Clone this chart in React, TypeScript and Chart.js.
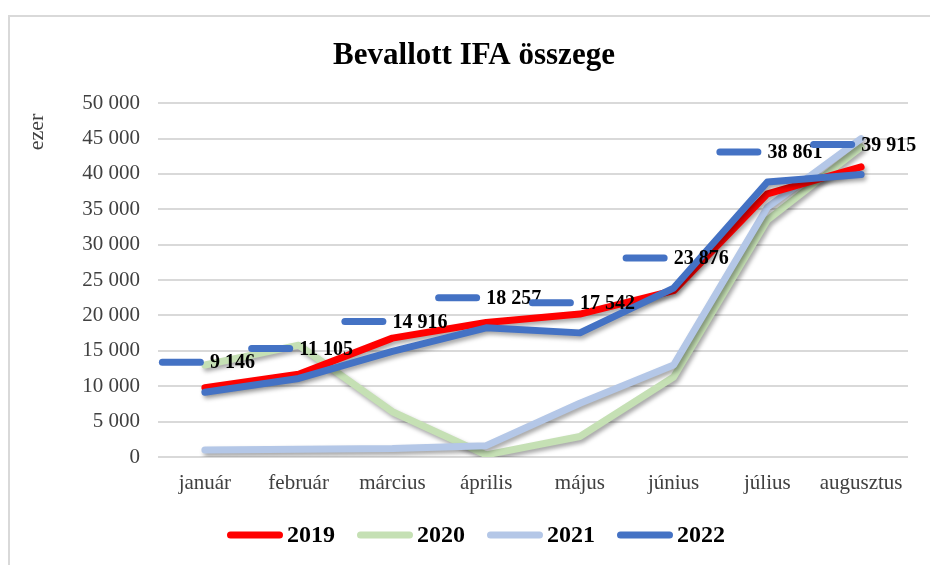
import React, { useEffect, useRef } from "react";
import { Chart, registerables } from "chart.js";

Chart.register(...registerables);

const categories = ["január", "február", "március", "április", "május", "június", "július", "augusztus"];
const years = ["2019", "2020", "2021", "2022"];
const values2019 = [9800, 11700, 16800, 19000, 20200, 23500, 37200, 41000];
const values2020 = [13000, 15800, 6400, 300, 2900, 11300, 33500, 43800];
const values2021 = [1000, 1100, 1200, 1600, 7600, 13000, 35300, 45000];
const values2022 = [9146, 11105, 14916, 18257, 17542, 23876, 38861, 39915];
const yTicks = [0, 5000, 10000, 15000, 20000, 25000, 30000, 35000, 40000, 45000, 50000];

const colors = ["#FF0000", "#C5E0B4", "#B4C7E7", "#4472C4"];
const drawOrder = [1, 3, 2, 0];

const fmt = (v: number) => {
  const s = Math.round(v).toString();
  return s.replace(/\B(?=(\d{3})+(?!\d))/g, " ");
};

const FONT = "'Liberation Serif', 'Times New Roman', serif";

const shadowPlugin = {
  id: "lineShadow",
  beforeDatasetDraw(chart: any) {
    const ctx = chart.ctx;
    ctx.save();
    ctx.shadowColor = "rgba(0,0,0,0.35)";
    ctx.shadowBlur = 4;
    ctx.shadowOffsetX = 2;
    ctx.shadowOffsetY = 3;
  },
  afterDatasetDraw(chart: any) {
    chart.ctx.restore();
  },
};

const labelPlugin = {
  id: "dataLabels2022",
  afterDatasetsDraw(chart: any) {
    const ctx = chart.ctx;
    const meta = chart.getDatasetMeta(3);
    const data = chart.data.datasets[3].data as number[];
    ctx.save();
    ctx.font = `bold 20px ${FONT}`;
    ctx.textBaseline = "middle";
    ctx.textAlign = "left";
    meta.data.forEach((pt: any, i: number) => {
      const text = fmt(data[i]);
      const tw = ctx.measureText(text).width;
      const dashLen = 38;
      const total = 45 + 6 + tw;
      const left = pt.x - total / 2 + 2;
      const cy = pt.y - 30;
      ctx.strokeStyle = colors[3];
      ctx.lineWidth = 7;
      ctx.lineCap = "round";
      ctx.beginPath();
      ctx.moveTo(left + 3.5, cy);
      ctx.lineTo(left + 3.5 + dashLen, cy);
      ctx.stroke();
      ctx.fillStyle = "#000000";
      ctx.fillText(text, left + 51, cy + 1);
    });
    ctx.restore();
  },
  afterDraw(chart: any) {
    const ctx = chart.ctx;
    ctx.save();
    // y axis unit label
    ctx.save();
    ctx.translate(37, 132);
    ctx.rotate(-Math.PI / 2);
    ctx.font = `22px ${FONT}`;
    ctx.fillStyle = "#404040";
    ctx.textAlign = "center";
    ctx.textBaseline = "middle";
    ctx.fillText("ezer", 0, 0);
    ctx.restore();

    // legend
    ctx.font = `bold 24px ${FONT}`;
    const keyLen = 49;
    const keyGap = 4;
    const itemGap = 22;
    const widths = years.map((y) => ctx.measureText(y).width);
    let total = 0;
    widths.forEach((w, i) => {
      total += 3.5 + keyLen + 3.5 + keyGap + w + (i < widths.length - 1 ? itemGap : 0);
    });
    let x = 476 - total / 2;
    const cy = 535;
    ctx.textBaseline = "middle";
    ctx.textAlign = "left";
    years.forEach((y, i) => {
      ctx.strokeStyle = colors[i];
      ctx.lineWidth = 7;
      ctx.lineCap = "round";
      ctx.beginPath();
      ctx.moveTo(x + 3.5, cy);
      ctx.lineTo(x + 3.5 + keyLen, cy);
      ctx.stroke();
      x += 3.5 + keyLen + 3.5 + keyGap;
      ctx.fillStyle = "#000000";
      ctx.fillText(y, x, cy + 1);
      x += widths[i] + itemGap;
    });
    ctx.restore();
  },
};

export default function App() {
  const ref = useRef<HTMLCanvasElement | null>(null);

  useEffect(() => {
    if (!ref.current) return;
    const series = [values2019, values2020, values2021, values2022];
    const chart = new Chart(ref.current, {
      type: "line",
      data: {
        labels: categories,
        datasets: series.map((vals, i) => ({
          label: years[i],
          data: vals,
          borderColor: colors[i],
          backgroundColor: colors[i],
          borderWidth: 7,
          borderCapStyle: "round",
          borderJoinStyle: "round",
          pointRadius: 0,
          pointHoverRadius: 0,
          tension: 0,
          fill: false,
          order: drawOrder[i],
        })),
      },
      options: {
        responsive: false,
        animation: false,
        events: [],
        layout: { padding: { top: 10, right: 22, bottom: 64, left: 40 } },
        scales: {
          x: {
            type: "category",
            offset: true,
            grid: { display: false, drawTicks: false },
            border: { display: false },
            ticks: {
              padding: 14,
              color: "#404040",
              font: { family: FONT, size: 21 },
              maxRotation: 0,
              autoSkip: false,
            },
            afterFit(scale: any) {
              scale.height = 44;
            },
          },
          y: {
            min: 0,
            max: 50000,
            grid: { color: "#D9D9D9", lineWidth: 2, drawTicks: false },
            border: { display: false },
            ticks: {
              stepSize: 5000,
              padding: 18,
              color: "#404040",
              font: { family: FONT, size: 21 },
              callback: (v: any) => fmt(Number(v)),
            },
            afterBuildTicks(scale: any) {
              scale.ticks = yTicks.map((v) => ({ value: v }));
            },
            afterFit(scale: any) {
              scale.width = 118;
            },
          },
        },
        plugins: {
          title: {
            display: true,
            text: "Bevallott IFA összege",
            color: "#000000",
            font: { family: FONT, size: 31, weight: "bold" },
            padding: { top: 27, bottom: 29 },
          },
          legend: { display: false },
          tooltip: { enabled: false },
        },
      } as any,
      plugins: [shadowPlugin, labelPlugin],
    });
    return () => chart.destroy();
  }, []);

  return (
    <div style={{ position: "fixed", left: 0, top: 0, width: 930, height: 565, background: "#ffffff", overflow: "hidden" }}>
      <div
        style={{
          position: "absolute",
          left: 8,
          top: 15,
          width: 922,
          height: 550,
          borderTop: "2px solid #D9D9D9",
          borderLeft: "2px solid #D9D9D9",
          boxSizing: "border-box",
        }}
      />
      <canvas ref={ref} width={930} height={565} style={{ position: "absolute", left: 0, top: 0, width: 930, height: 565 }} />
    </div>
  );
}
